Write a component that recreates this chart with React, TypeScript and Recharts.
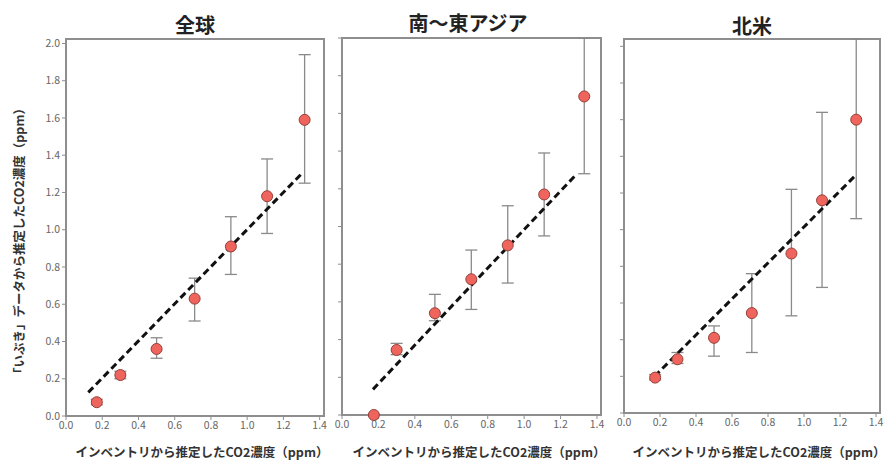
import { ScatterChart, Scatter, XAxis, YAxis, ErrorBar, ReferenceLine, ReferenceArea } from 'recharts';

const X_TICKS = [0, 0.2, 0.4, 0.6, 0.8, 1.0, 1.2, 1.4];
const Y_TICKS = [0, 0.2, 0.4, 0.6, 0.8, 1.0, 1.2, 1.4, 1.6, 1.8, 2.0];

// 全球
const globalX = [0.17, 0.30, 0.50, 0.71, 0.91, 1.11, 1.317];
const globalY = [0.074, 0.22, 0.36, 0.63, 0.91, 1.18, 1.59];
const globalLow = [0.06, 0.20, 0.31, 0.51, 0.76, 0.98, 1.25];
const globalHigh = [0.09, 0.24, 0.42, 0.74, 1.07, 1.38, 1.94];
const globalFitX = [0.123, 1.30];
const globalFitY = [0.127, 1.30];

// 南～東アジア
const asiaX = [0.175, 0.30, 0.51, 0.71, 0.91, 1.11, 1.33];
const asiaY = [0.0, 0.345, 0.54, 0.72, 0.90, 1.17, 1.69];
const asiaLow = [0.0, 0.32, 0.50, 0.56, 0.70, 0.95, 1.28];
const asiaHigh = [0.0, 0.38, 0.64, 0.875, 1.11, 1.39, 2.0];
const asiaFitX = [0.17, 1.29];
const asiaFitY = [0.136, 1.28];

// 北米
const naX = [0.173, 0.297, 0.50, 0.71, 0.93, 1.10, 1.29];
const naY = [0.193, 0.293, 0.41, 0.545, 0.87, 1.16, 1.60];
const naLow = [0.18, 0.27, 0.31, 0.33, 0.53, 0.685, 1.06];
const naHigh = [0.21, 0.33, 0.475, 0.76, 1.22, 1.64, 2.04];
const naFitX = [0.17, 1.29];
const naFitY = [0.20, 1.30];

const FONT = '"Noto Sans CJK JP", "Noto Sans", sans-serif';
const GRAY = '#8e8e8e';

function build(xs: number[], ys: number[], lo: number[], hi: number[]) {
  return xs.map((x, i) => ({ x, y: ys[i], err: [ys[i] - lo[i], hi[i] - ys[i]] }));
}

const Dot = (props: any) => {
  const { cx, cy } = props;
  if (cx == null || cy == null) return null;
  return <circle cx={cx} cy={cy} r={5.5} fill="#ef655d" stroke="#93403a" strokeWidth={1} />;
};

type PanelProps = {
  left: number;
  width: number;
  margin: { top: number; right: number; bottom: number; left: number };
  yWidth: number;
  xMax: number;
  yMax: number;
  showY: boolean;
  data: { x: number; y: number; err: number[] }[];
  fitX: number[];
  fitY: number[];
};

function Panel({ left, width, margin, yWidth, xMax, yMax, showY, data, fitX, fitY }: PanelProps) {
  return (
    <div style={{ position: 'absolute', left, top: 0 }}>
      <ScatterChart width={width} height={462} margin={margin}>
        <ReferenceArea x1={0} x2={xMax} y1={0} y2={yMax} fill="none" stroke={GRAY} strokeWidth={2} ifOverflow="visible" />
        <XAxis
          type="number"
          dataKey="x"
          domain={[0, xMax]}
          ticks={X_TICKS}
          height={30}
          tickFormatter={(v: number) => v.toFixed(1)}
          tick={{ fontSize: 10.5, fill: '#666', fontFamily: FONT }}
          axisLine={{ stroke: GRAY, strokeWidth: 2 }}
          tickLine={{ stroke: GRAY }}
          tickSize={4}
        />
        <YAxis
          type="number"
          dataKey="y"
          domain={[0, yMax]}
          ticks={Y_TICKS}
          width={yWidth}
          tickFormatter={(v: number) => (showY ? v.toFixed(1) : '')}
          tick={{ fontSize: 10.5, fill: '#666', fontFamily: FONT }}
          axisLine={{ stroke: GRAY, strokeWidth: 2 }}
          tickLine={{ stroke: GRAY }}
          tickSize={4}
        />
        <Scatter data={data} shape={<Dot />} isAnimationActive={false}>
          <ErrorBar dataKey="err" direction="y" width={6} stroke="#8a8a8a" strokeWidth={1.3} />
        </Scatter>
        <ReferenceLine
          segment={[{ x: fitX[0], y: fitY[0] }, { x: fitX[1], y: fitY[1] }]}
          stroke="#111"
          strokeWidth={3}
          strokeDasharray="7 4"
          ifOverflow="visible"
        />
      </ScatterChart>
    </div>
  );
}

const textStyle: React.CSSProperties = {
  position: 'absolute',
  fontFamily: FONT,
  fontWeight: 'bold',
  color: '#222',
  whiteSpace: 'nowrap',
};

function Title({ x, y, text }: { x: number; y: number; text: string }) {
  return (
    <div style={{ ...textStyle, left: x, top: y, fontSize: 20, transform: 'translate(-50%, -50%)' }}>{text}</div>
  );
}

function XLabel({ x }: { x: number }) {
  return (
    <div style={{ ...textStyle, left: x, top: 451, fontSize: 12.5, color: '#333', transform: 'translate(-50%, -50%)' }}>
      インベントリから推定したCO2濃度（ppm）
    </div>
  );
}

export default function App() {
  return (
    <div style={{ position: 'absolute', left: 0, top: 0, width: 890, height: 462, background: '#fff', overflow: 'hidden' }}>
      <Panel
        left={0}
        width={340}
        margin={{ top: 39, right: 16, bottom: 16, left: 36 }}
        yWidth={30}
        xMax={1.424}
        yMax={2.024}
        showY
        data={build(globalX, globalY, globalLow, globalHigh)}
        fitX={globalFitX}
        fitY={globalFitY}
      />
      <Panel
        left={330}
        width={290}
        margin={{ top: 38, right: 19, bottom: 17, left: 2 }}
        yWidth={10}
        xMax={1.422}
        yMax={2.0}
        showY={false}
        data={build(asiaX, asiaY, asiaLow, asiaHigh)}
        fitX={asiaFitX}
        fitY={asiaFitY}
      />
      <Panel
        left={600}
        width={290}
        margin={{ top: 39, right: 10, bottom: 19, left: 14 }}
        yWidth={10}
        xMax={1.422}
        yMax={2.04}
        showY={false}
        data={build(naX, naY, naLow, naHigh)}
        fitX={naFitX}
        fitY={naFitY}
      />
      <Title x={195} y={24} text="全球" />
      <Title x={468} y={22} text="南～東アジア" />
      <Title x={752} y={25} text="北米" />
      <XLabel x={202} />
      <XLabel x={479} />
      <XLabel x={759} />
      <div
        style={{
          ...textStyle,
          left: 18,
          top: 241,
          fontSize: 12.5,
          color: '#333',
          transform: 'translate(-50%, -50%) rotate(-90deg)',
        }}
      >
        「いぶき」データから推定したCO2濃度（ppm）
      </div>
    </div>
  );
}
